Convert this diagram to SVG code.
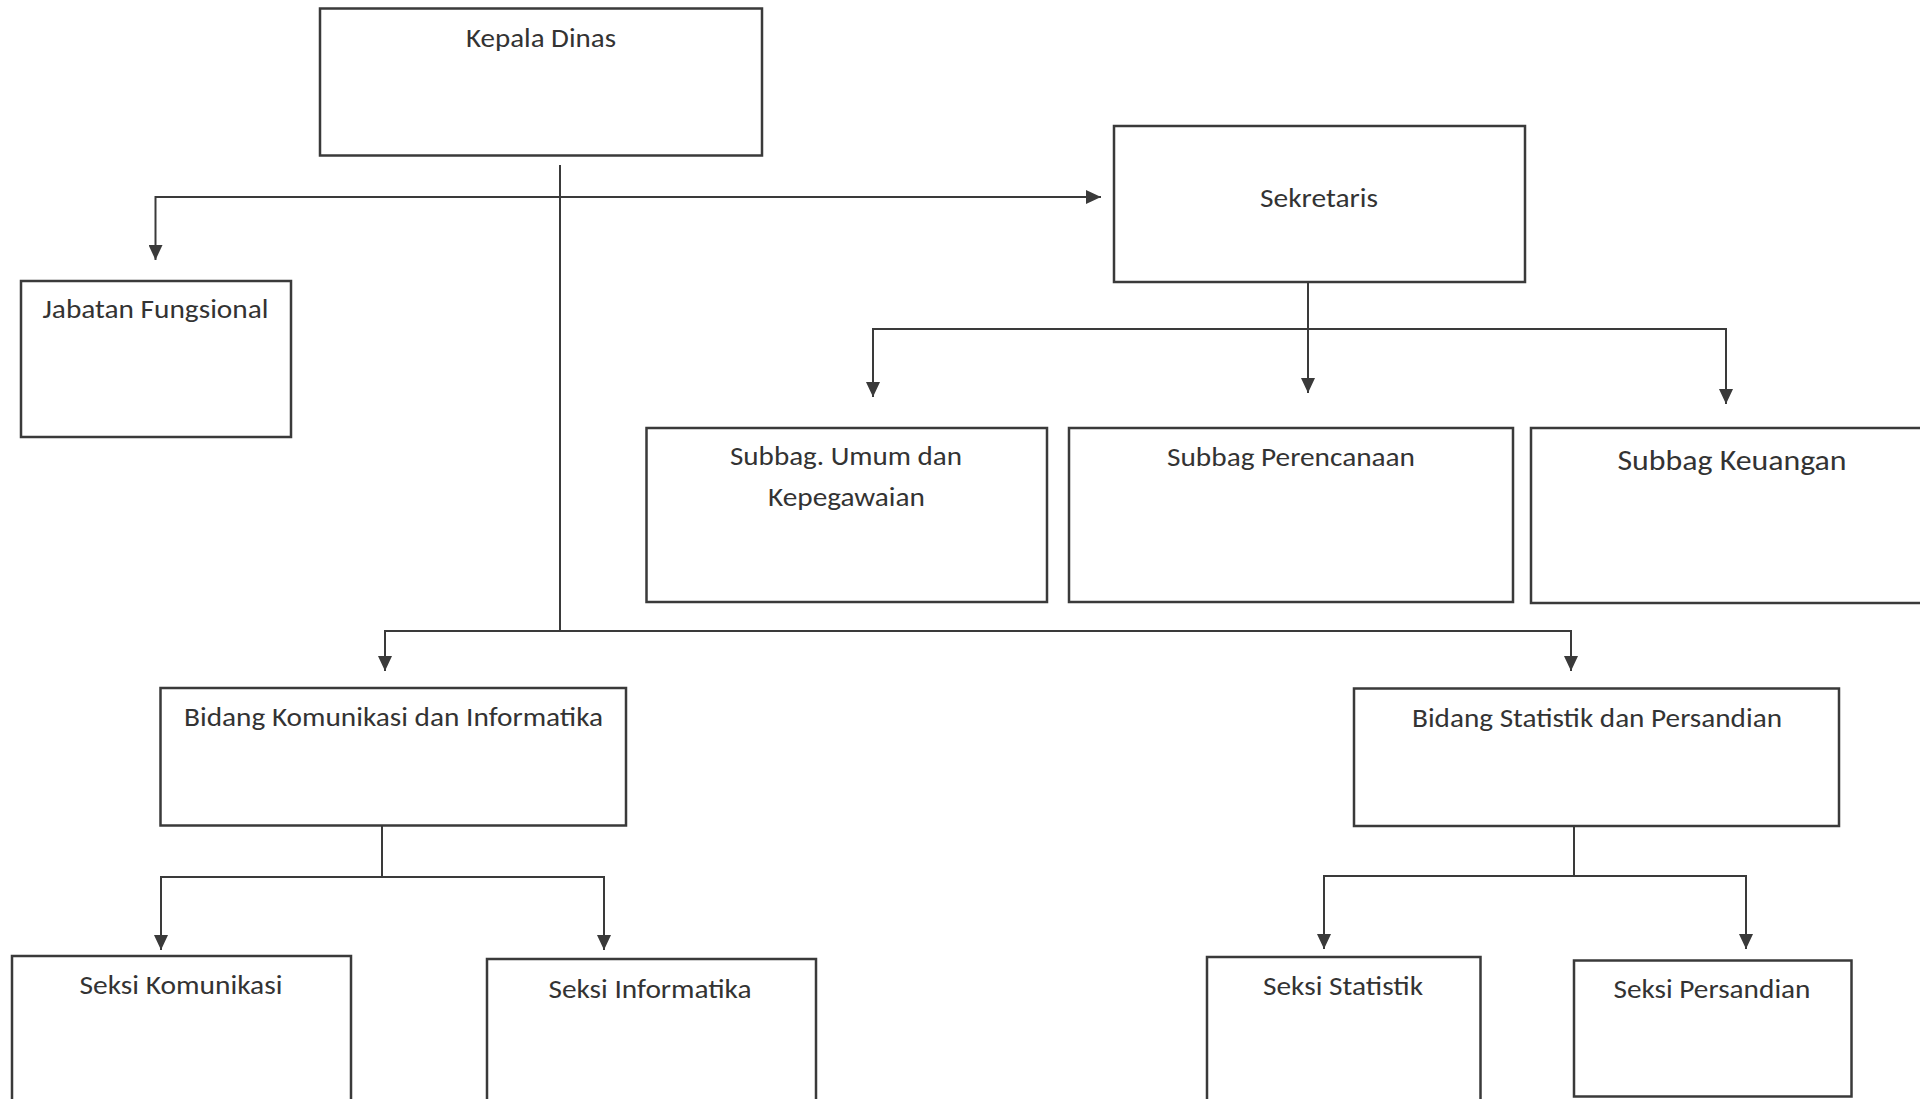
<svg xmlns="http://www.w3.org/2000/svg" width="1920" height="1099" viewBox="0 0 1920 1099">
<style>
.box{fill:none;stroke:#3a3a3a;stroke-width:2.5}
.ln{fill:none;stroke:#3a3a3a;stroke-width:2}
.t{font-family:"Carlito","Liberation Sans",Arial,sans-serif;font-size:26px;fill:#333;text-anchor:middle}
.tb{font-size:28px}
</style>
<defs>
<marker id="ah" viewBox="0 0 15 14" refX="15" refY="7" markerWidth="15" markerHeight="14" markerUnits="userSpaceOnUse" orient="auto">
<path d="M0,0 L15,7 L0,14 z" fill="#3a3a3a"/>
</marker>
</defs>
<rect width="1920" height="1099" fill="#ffffff"/>
<g id="connectors">
<line class="ln" x1="560" y1="165" x2="560" y2="631"/>
<line class="ln" x1="155.5" y1="197" x2="1101" y2="197" marker-end="url(#ah)"/>
<line class="ln" x1="155.5" y1="196" x2="155.5" y2="260" marker-end="url(#ah)"/>
<line class="ln" x1="1308" y1="282" x2="1308" y2="393" marker-end="url(#ah)"/>
<line class="ln" x1="873" y1="329" x2="1726" y2="329"/>
<line class="ln" x1="873" y1="328" x2="873" y2="397" marker-end="url(#ah)"/>
<line class="ln" x1="1726" y1="328" x2="1726" y2="404" marker-end="url(#ah)"/>
<line class="ln" x1="385" y1="631" x2="1571" y2="631"/>
<line class="ln" x1="385" y1="630" x2="385" y2="671" marker-end="url(#ah)"/>
<line class="ln" x1="1571" y1="630" x2="1571" y2="671" marker-end="url(#ah)"/>
<line class="ln" x1="382" y1="825" x2="382" y2="877"/>
<line class="ln" x1="161" y1="877" x2="604" y2="877"/>
<line class="ln" x1="161" y1="876" x2="161" y2="950" marker-end="url(#ah)"/>
<line class="ln" x1="604" y1="876" x2="604" y2="950" marker-end="url(#ah)"/>
<line class="ln" x1="1574" y1="826" x2="1574" y2="876"/>
<line class="ln" x1="1324" y1="876" x2="1746" y2="876"/>
<line class="ln" x1="1324" y1="875" x2="1324" y2="949" marker-end="url(#ah)"/>
<line class="ln" x1="1746" y1="875" x2="1746" y2="949" marker-end="url(#ah)"/>
</g>
<g id="kepala-dinas">
<rect class="box" x="320" y="8.5" width="442" height="147"/>
<text class="t" x="541" y="47" textLength="150" lengthAdjust="spacingAndGlyphs">Kepala Dinas</text>
</g>
<g id="jabatan-fungsional">
<rect class="box" x="21" y="281" width="270" height="156"/>
<text class="t" x="155.5" y="318" textLength="226" lengthAdjust="spacingAndGlyphs">Jabatan Fungsional</text>
</g>
<g id="sekretaris">
<rect class="box" x="1114" y="126" width="411" height="156"/>
<text class="t" x="1319" y="207" textLength="118" lengthAdjust="spacingAndGlyphs">Sekretaris</text>
</g>
<g id="subbag-umum">
<rect class="box" x="646.5" y="428" width="400.5" height="174"/>
<text class="t" x="846" y="465" textLength="232" lengthAdjust="spacingAndGlyphs">Subbag. Umum dan</text>
<text class="t" x="846.5" y="506" textLength="157" lengthAdjust="spacingAndGlyphs">Kepegawaian</text>
</g>
<g id="subbag-perencanaan">
<rect class="box" x="1069" y="428" width="444" height="174"/>
<text class="t" x="1291" y="466" textLength="248" lengthAdjust="spacingAndGlyphs">Subbag Perencanaan</text>
</g>
<g id="subbag-keuangan">
<rect class="box" x="1531" y="428" width="400" height="175"/>
<text class="t tb" x="1732" y="470" textLength="229" lengthAdjust="spacingAndGlyphs">Subbag Keuangan</text>
</g>
<g id="bidang-komunikasi">
<rect class="box" x="160.5" y="688" width="465.5" height="137.5"/>
<text class="t" x="393.5" y="726" textLength="419" lengthAdjust="spacingAndGlyphs">Bidang Komunikasi dan Informatika</text>
</g>
<g id="bidang-statistik">
<rect class="box" x="1354" y="688.5" width="485" height="137.5"/>
<text class="t" x="1597" y="727" textLength="370" lengthAdjust="spacingAndGlyphs">Bidang Statistik dan Persandian</text>
</g>
<g id="seksi-komunikasi">
<rect class="box" x="12" y="956" width="339" height="150"/>
<text class="t" x="181" y="994" textLength="203" lengthAdjust="spacingAndGlyphs">Seksi Komunikasi</text>
</g>
<g id="seksi-informatika">
<rect class="box" x="487" y="959" width="329" height="150"/>
<text class="t" x="650" y="998" textLength="203" lengthAdjust="spacingAndGlyphs">Seksi Informatika</text>
</g>
<g id="seksi-statistik">
<rect class="box" x="1207" y="957" width="273.5" height="150"/>
<text class="t" x="1343" y="995" textLength="160" lengthAdjust="spacingAndGlyphs">Seksi Statistik</text>
</g>
<g id="seksi-persandian">
<rect class="box" x="1574" y="960.5" width="277.5" height="136"/>
<text class="t" x="1712" y="998" textLength="197" lengthAdjust="spacingAndGlyphs">Seksi Persandian</text>
</g>
</svg>
